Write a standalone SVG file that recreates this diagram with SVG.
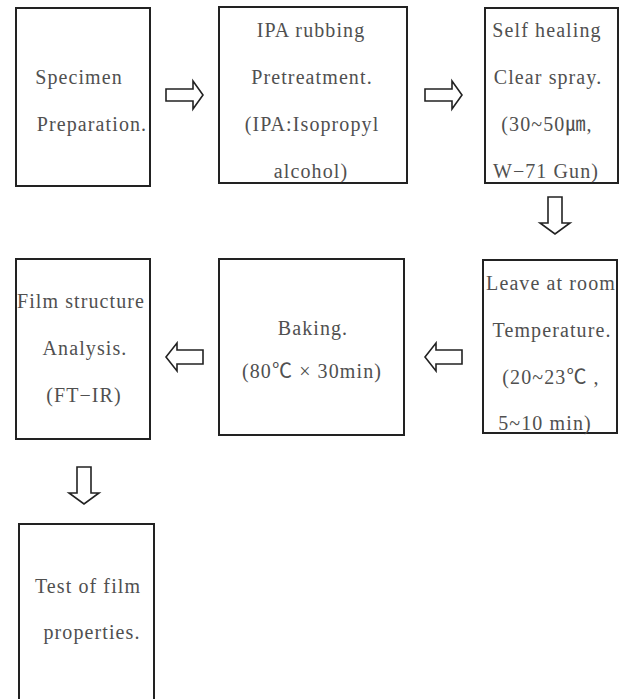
<svg xmlns="http://www.w3.org/2000/svg" width="622" height="699" viewBox="0 0 622 699">
<style>
  .box{fill:#fff;stroke:#222;stroke-width:2}
  .arr{fill:#fff;stroke:#222;stroke-width:1.6;stroke-linejoin:miter}
  text{font-family:"Liberation Serif","Noto Sans CJK KR",serif;font-size:20px;fill:#505050;text-anchor:middle;letter-spacing:1.1px}
</style>
<rect width="622" height="699" fill="#fff"/>
<g id="n1">
  <rect class="box" x="16" y="8" width="134" height="178"/>
  <text x="79" y="84">Specimen</text>
  <text x="92" y="131">Preparation.</text>
</g>
<g id="n2">
  <rect class="box" x="219" y="7" width="188" height="176"/>
  <text x="311" y="37">IPA rubbing</text>
  <text x="312" y="84">Pretreatment.</text>
  <text x="312" y="131">(IPA:Isopropyl</text>
  <text x="311" y="178">alcohol)</text>
</g>
<g id="n3">
  <rect class="box" x="485" y="8" width="133" height="175"/>
  <text x="547" y="37">Self healing</text>
  <text x="548" y="84">Clear spray.</text>
  <text x="547" y="131">(30~50㎛,</text>
  <text x="546" y="178">W−71 Gun)</text>
</g>
<g id="n4">
  <rect class="box" x="483" y="260" width="134" height="173"/>
  <text x="551" y="290">Leave at room</text>
  <text x="552" y="337">Temperature.</text>
  <text x="551" y="384">(20~23℃ ,</text>
  <text x="545" y="430">5~10 min)</text>
</g>
<g id="n5">
  <rect class="box" x="219" y="259" width="185" height="176"/>
  <text x="313" y="335">Baking.</text>
  <text x="312" y="378">(80℃ × 30min)</text>
</g>
<g id="n6">
  <rect class="box" x="16" y="259" width="134" height="180"/>
  <text x="81" y="308">Film structure</text>
  <text x="85" y="355">Analysis.</text>
  <text x="84" y="402">(FT−IR)</text>
</g>
<g id="n7">
  <rect class="box" x="19" y="524" width="135" height="185"/>
  <text x="88" y="593">Test of film</text>
  <text x="92" y="639">properties.</text>
</g>
<g id="connectors">
  <polygon class="arr" points="166,89 193,89 193,81 203,95 193,109 193,101 166,101"/>
  <polygon class="arr" points="425,89 452,89 452,81 462,95 452,109 452,101 425,101"/>
  <polygon class="arr" points="548,197 562,197 562,223 570,223 555,234 540,223 548,223"/>
  <polygon class="arr" points="462,350 436,350 436,343 425,357 436,371 436,364 462,364"/>
  <polygon class="arr" points="203,350 177,350 177,343 166,357 177,371 177,364 203,364"/>
  <polygon class="arr" points="77,467 91,467 91,493 99,493 84,504 69,493 77,493"/>
</g>
</svg>
